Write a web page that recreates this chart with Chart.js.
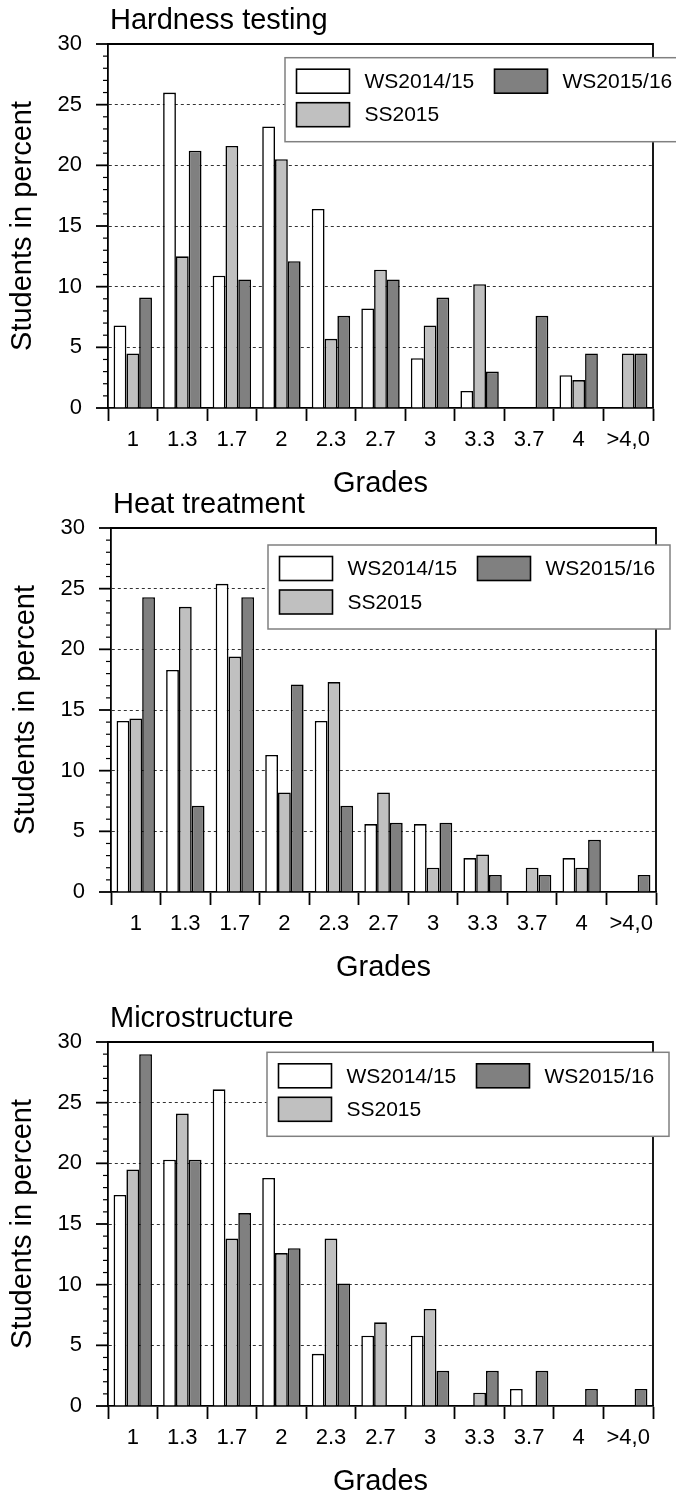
<!DOCTYPE html>
<html>
<head>
<meta charset="utf-8">
<title>Grades per course</title>
<script src="https://cdn.jsdelivr.net/npm/chart.js@4/dist/chart.umd.min.js"></script>
<style>
  html, body { margin: 0; padding: 0; background: #fff; overflow: hidden; }
  canvas { position: absolute; left: 0; }
</style>
</head>
<body>
<canvas id="hardness" width="676" height="500" style="top:0"></canvas>
<canvas id="heat" width="676" height="496" style="top:488px"></canvas>
<canvas id="micro" width="676" height="498" style="top:1000px"></canvas>
<script>
'use strict';

var grades = ['1', '1.3', '1.7', '2', '2.3', '2.7', '3', '3.3', '3.7', '4', '>4,0'];
var terms = ['WS2014/15', 'SS2015', 'WS2015/16'];
var termColors = ['#ffffff', '#c0c0c0', '#808080'];
var yTicks = [0, 30];

var hardnessWS1415 = [6.8, 26.0, 10.9, 23.2, 16.4, 8.2, 4.1, 1.4, 0, 2.7, 0];
var hardnessSS2015 = [4.5, 12.5, 21.6, 20.5, 5.7, 11.4, 6.8, 10.2, 0, 2.3, 4.5];
var hardnessWS1516 = [9.1, 21.2, 10.6, 12.1, 7.6, 10.6, 9.1, 3.0, 7.6, 4.5, 4.5];

var heatWS1415 = [14.1, 18.3, 25.4, 11.3, 14.1, 5.6, 5.6, 2.8, 0, 2.8, 0];
var heatSS2015 = [14.3, 23.5, 19.4, 8.2, 17.3, 8.2, 2.0, 3.1, 2.0, 2.0, 0];
var heatWS1516 = [24.3, 7.1, 24.3, 17.1, 7.1, 5.7, 5.7, 1.4, 1.4, 4.3, 1.4];

var microWS1415 = [17.4, 20.3, 26.1, 18.8, 4.3, 5.8, 5.8, 0, 1.4, 0, 0];
var microSS2015 = [19.5, 24.1, 13.8, 12.6, 13.8, 6.9, 8.0, 1.1, 0, 0, 0];
var microWS1516 = [29.0, 20.3, 15.9, 13.0, 10.1, 0, 2.9, 2.9, 2.9, 1.4, 1.4];

var FONT = '"Liberation Sans", Arial, sans-serif';

/**
 * Draw the panel title, the closing frame, the y tick marks and the
 * two column legend on top of the chart.
 *
 * @api private
 */
var decor = {
  id: 'decor',
  afterDraw: function afterDraw(chart, args, opts) {
    var ctx = chart.ctx
      , area = chart.chartArea
      , y = chart.scales.y
      , v, py, len;

    ctx.save();

    //
    // Title, left aligned with the plot.
    //
    ctx.fillStyle = '#000';
    ctx.font = '29px ' + FONT;
    ctx.textAlign = 'left';
    ctx.textBaseline = 'alphabetic';
    ctx.fillText(opts.title, area.left + 2, area.top - 15);

    //
    // Top and right side of the box.
    //
    ctx.strokeStyle = '#000';
    ctx.lineWidth = 1.8;
    ctx.beginPath();
    ctx.moveTo(area.left, area.top);
    ctx.lineTo(area.right, area.top);
    ctx.lineTo(area.right, area.bottom);
    ctx.stroke();

    //
    // Major and minor tick marks on the value axis.
    //
    for (v = y.min; v <= y.max; v++) {
      py = y.getPixelForValue(v);
      len = v % 5 === 0 ? 12 : 5;
      ctx.lineWidth = v % 5 === 0 ? 1.8 : 1.2;
      ctx.beginPath();
      ctx.moveTo(area.left - len, py);
      ctx.lineTo(area.left, py);
      ctx.stroke();
    }

    drawLegend(chart, opts.legend);
    ctx.restore();
  }
};

/**
 * Legend with two rows, filled column by column.
 *
 * @param {Chart} chart
 * @param {Object} pos offset of the box from the chart area.
 * @api private
 */
function drawLegend(chart, pos) {
  var ctx = chart.ctx
    , area = chart.chartArea
    , left = area.left + pos.dx
    , top = area.top + pos.dy;

  ctx.fillStyle = '#fff';
  ctx.fillRect(left, top, 402, 84);
  ctx.strokeStyle = '#808080';
  ctx.lineWidth = 1.5;
  ctx.strokeRect(left, top, 402, 84);

  ctx.font = '21px ' + FONT;
  ctx.textAlign = 'left';
  ctx.textBaseline = 'middle';

  chart.data.datasets.forEach(function each(ds, i) {
    var col = Math.floor(i / 2)
      , row = i % 2
      , sx = left + 11.5 + col * 198
      , sy = top + 11.5 + row * 33.5;

    ctx.fillStyle = ds.backgroundColor;
    ctx.fillRect(sx, sy, 53, 24);
    ctx.strokeStyle = '#000';
    ctx.lineWidth = 1.6;
    ctx.strokeRect(sx, sy, 53, 24);

    ctx.fillStyle = '#000';
    ctx.fillText(ds.label, sx + 68, sy + 13);
  });
}

/**
 * Build one grade distribution panel.
 *
 * @param {String} id canvas id.
 * @param {String} title
 * @param {Array} series values for the three terms.
 * @param {Object} place padding and legend offsets.
 * @api public
 */
function panel(id, title, series, place) {
  return new Chart(document.getElementById(id), {
    type: 'bar',
    data: {
      labels: grades,
      datasets: series.map(function map(values, i) {
        return {
          label: terms[i],
          data: values,
          backgroundColor: termColors[i],
          borderColor: '#000',
          borderWidth: 1.6
        };
      })
    },
    options: {
      responsive: false,
      animation: false,
      devicePixelRatio: 1,
      categoryPercentage: 0.775,
      barPercentage: 1,
      layout: {
        padding: { top: place.top, left: place.left, right: 23 - place.left, bottom: 0 }
      },
      plugins: {
        legend: { display: false },
        title: { display: false },
        tooltip: { enabled: false },
        decor: { title: title, legend: place.legend }
      },
      scales: {
        x: {
          afterFit: function fit(scale) { scale.height = 92; },
          grid: {
            offset: true,
            drawOnChartArea: false,
            drawTicks: true,
            tickLength: 13,
            tickColor: '#000',
            tickWidth: 1.8
          },
          border: { display: true, color: '#000', width: 1.8 },
          ticks: {
            color: '#000',
            font: { family: FONT, size: 22 },
            padding: 5.8,
            maxRotation: 0,
            autoSkip: false
          },
          title: {
            display: true,
            text: 'Grades',
            color: '#000',
            font: { family: FONT, size: 29, lineHeight: 1 },
            padding: { top: 0, bottom: 1.5 }
          }
        },
        y: {
          min: yTicks[0],
          max: yTicks[1],
          afterFit: function fit(scale) { scale.width = 108; },
          grid: {
            drawTicks: false,
            lineWidth: 1,
            color: function color(c) {
              var v = c.tick && c.tick.value;
              return v % 5 === 0 && v > yTicks[0] && v < yTicks[1] ? '#333' : 'rgba(0,0,0,0)';
            }
          },
          border: { display: true, color: '#000', width: 1.8, dash: [3, 3] },
          ticks: {
            stepSize: 1,
            autoSkip: false,
            color: '#000',
            padding: 26,
            font: { family: FONT, size: 22 },
            callback: function label(v) { return v % 5 === 0 ? v : ''; }
          },
          title: {
            display: true,
            text: 'Students in percent',
            color: '#000',
            font: { family: FONT, size: 29, lineHeight: 1 },
            padding: { top: 8, bottom: 0 }
          }
        }
      }
    },
    plugins: [decor]
  });
}

panel('hardness', 'Hardness testing',
  [hardnessWS1415, hardnessSS2015, hardnessWS1516],
  { top: 44, left: 0, legend: { dx: 177, dy: 13.7 } });

panel('heat', 'Heat treatment',
  [heatWS1415, heatSS2015, heatWS1516],
  { top: 40, left: 3, legend: { dx: 157, dy: 17 } });

panel('micro', 'Microstructure',
  [microWS1415, microSS2015, microWS1516],
  { top: 42, left: 0, legend: { dx: 159, dy: 10.3 } });
</script>
</body>
</html>
